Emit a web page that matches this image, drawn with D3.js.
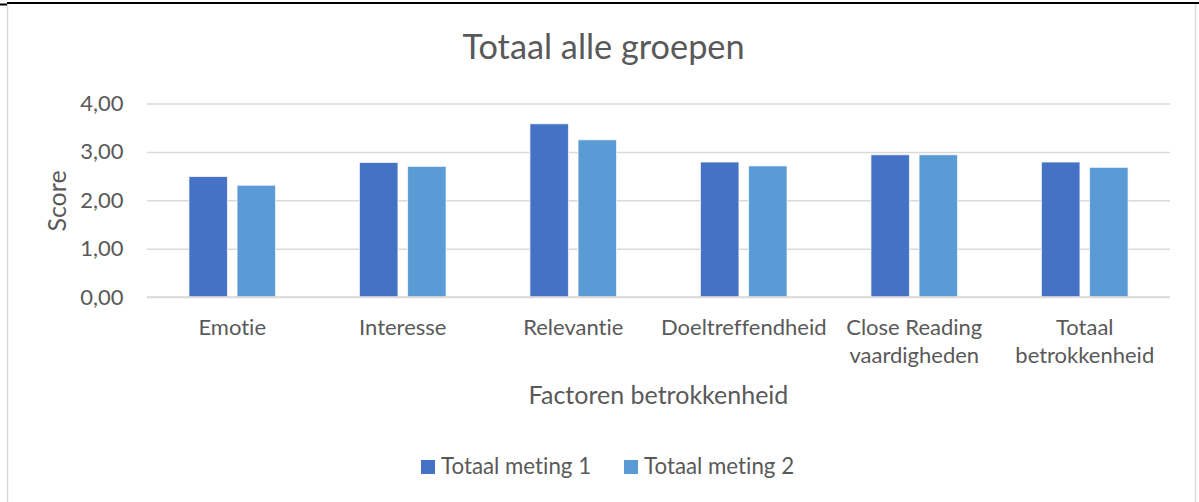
<!DOCTYPE html>
<html>
<head>
<meta charset="utf-8">
<script src="https://cdn.jsdelivr.net/npm/d3@7"></script>
<style>
  html, body { margin: 0; padding: 0; background: #fff; }
  svg { display: block; }
  text { font-family: Lato, "Open Sans", sans-serif; fill: #595959; font-variant-ligatures: none; }
</style>
</head>
<body>
<svg id="chart" width="1199" height="502"></svg>
<script>
const title = "Totaal alle groepen";
const xTitle = "Factoren betrokkenheid";
const yTitle = "Score";
const categories = ["Emotie", "Interesse", "Relevantie", "Doeltreffendheid", "Close Reading\nvaardigheden", "Totaal\nbetrokkenheid"];
const seriesNames = ["Totaal meting 1", "Totaal meting 2"];
const meting1 = [2.49, 2.78, 3.58, 2.79, 2.94, 2.79];
const meting2 = [2.31, 2.70, 3.25, 2.71, 2.94, 2.68];
const yTicks = [0, 1, 2, 3, 4];
const colors = ["#4472C4", "#5B9BD5"];

const svg = d3.select("#chart");
const W = 1199, H = 502;
const plot = { left: 147, right: 1170, top: 103.5, bottom: 297 };

// outer frame
svg.append("line").attr("x1", 7.5).attr("x2", 7.5).attr("y1", 4).attr("y2", H)
  .attr("stroke", "#d9d9d9").attr("stroke-width", 1.5);
svg.append("line").attr("x1", 1195.5).attr("x2", 1195.5).attr("y1", 4).attr("y2", H)
  .attr("stroke", "#d9d9d9").attr("stroke-width", 1.5);
svg.append("line").attr("x1", 7).attr("x2", W).attr("y1", 3).attr("y2", 3)
  .attr("stroke", "#000").attr("stroke-width", 2);
svg.append("line").attr("x1", 0).attr("x2", 7).attr("y1", 4.5).attr("y2", 4.5)
  .attr("stroke", "#000").attr("stroke-width", 2);

const y = d3.scaleLinear().domain([0, 4]).range([plot.bottom, plot.top]);
const x0 = d3.scaleBand().domain(categories).range([plot.left, plot.right]).padding(0);
const groupFrac = 0.508;
const bw0 = x0.bandwidth();
const x1 = d3.scaleBand().domain(seriesNames)
  .range([(bw0 - bw0 * groupFrac) / 2, (bw0 + bw0 * groupFrac) / 2])
  .paddingInner(0.2).paddingOuter(0);

// gridlines
const fmt = v => d3.format(".2f")(v).replace(".", ",");
const yAxis = d3.axisLeft(y).tickValues(yTicks).tickSize(-(plot.right - plot.left)).tickFormat(fmt).tickPadding(23.5);
const gy = svg.append("g").attr("transform", `translate(${plot.left},0)`).call(yAxis);
gy.select(".domain").remove();
gy.selectAll(".tick line").attr("stroke", "#d9d9d9").attr("stroke-width", 1.5);
gy.selectAll(".tick text").attr("font-size", 22).attr("fill", "#595959")
  .style("font-family", "Lato, sans-serif");

// bars
const data = categories.map((c, i) => ({ cat: c, vals: [meting1[i], meting2[i]] }));
const groups = svg.append("g").selectAll("g").data(data).join("g")
  .attr("transform", d => `translate(${x0(d.cat)},0)`);
groups.selectAll("rect").data(d => d.vals.map((v, j) => ({ s: seriesNames[j], v, j })))
  .join("rect")
  .attr("x", d => x1(d.s))
  .attr("width", x1.bandwidth())
  .attr("y", d => y(d.v))
  .attr("height", d => y(0) - y(d.v))
  .attr("fill", d => colors[d.j])
  .attr("stroke", "#ffffff").attr("stroke-width", 1).attr("stroke-opacity", 0.7);

// baseline
svg.append("line").attr("x1", plot.left).attr("x2", plot.right)
  .attr("y1", y(0)).attr("y2", y(0)).attr("stroke", "#d9d9d9").attr("stroke-width", 1.5);

// category labels
const xAxis = d3.axisBottom(x0).tickSize(0).tickPadding(0);
const gx = svg.append("g").attr("transform", `translate(0,${plot.bottom})`).call(xAxis);
gx.select(".domain").remove();
gx.selectAll(".tick text").each(function(d) {
  const t = d3.select(this);
  t.text(null).attr("y", 0).attr("dy", null).attr("font-size", 22).attr("fill", "#595959")
    .style("font-family", "Lato, sans-serif");
  d.split("\n").forEach((line, k) => {
    t.append("tspan").attr("x", 0).attr("y", 38 + k * 28).text(line);
  });
});

// titles
svg.append("text").attr("x", 603.5).attr("y", 59).attr("text-anchor", "middle")
  .attr("font-size", 34.3).text(title);
svg.append("text").attr("x", (plot.left + plot.right) / 2).attr("y", 404).attr("text-anchor", "middle")
  .attr("font-size", 25).text(xTitle);
svg.append("text").attr("transform", `translate(66,201) rotate(-90)`).attr("text-anchor", "middle")
  .attr("font-size", 25).text(yTitle);

// legend
const legendItems = [{ name: seriesNames[0], x: 421 }, { name: seriesNames[1], x: 624 }];
const lg = svg.append("g").selectAll("g").data(legendItems).join("g")
  .attr("transform", d => `translate(${d.x},460)`);
lg.append("rect").attr("width", 14).attr("height", 14).attr("fill", (d, i) => colors[i]);
lg.append("text").attr("x", 20).attr("y", 14).attr("font-size", 22.3).text(d => d.name);
</script>
</body>
</html>
